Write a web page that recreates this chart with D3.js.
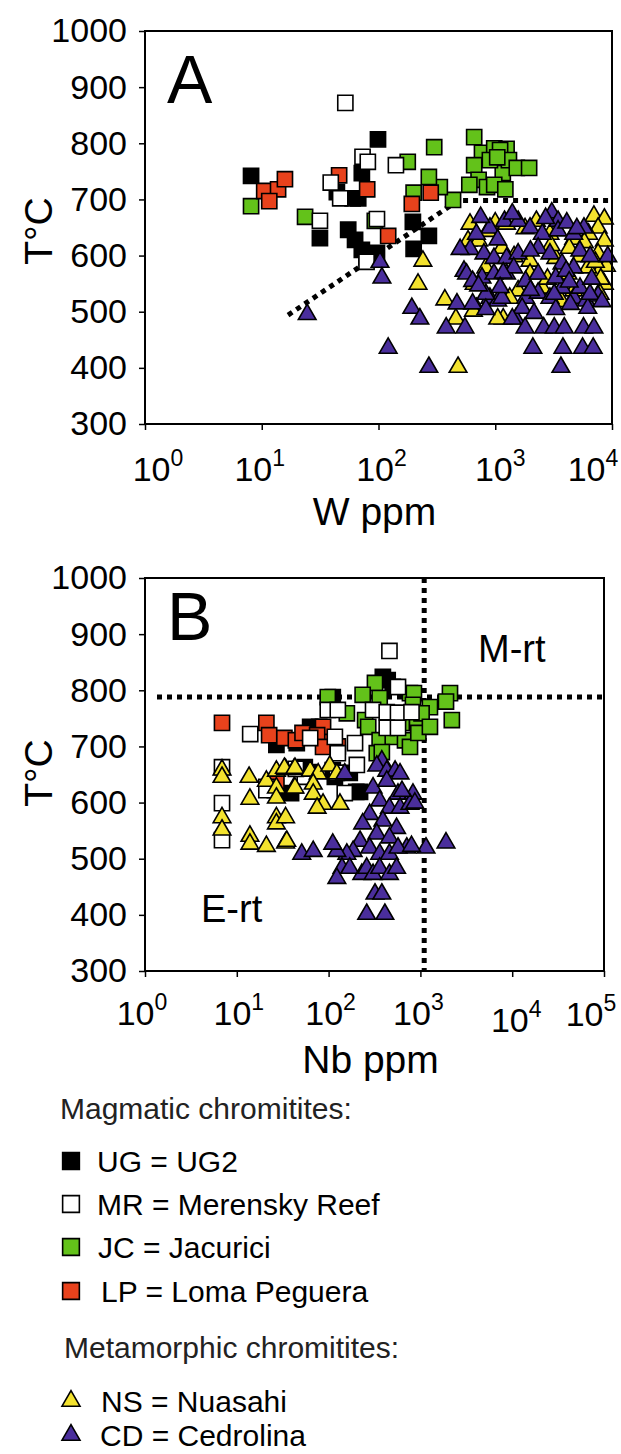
<!DOCTYPE html>
<html>
<head>
<meta charset="utf-8">
<script src="https://cdn.jsdelivr.net/npm/d3@7"></script>
<style>
  body { margin: 0; background: #fff; }
  svg text { font-family: "Liberation Sans", Arial, sans-serif; fill: #000; }
</style>
</head>
<body>
<svg id="fig" width="621" height="1454"></svg>
<script>
// ---- data: [ppm, T°C] ----
const tempTicks = [300, 400, 500, 600, 700, 800, 900, 1000];
const wTicks = [1, 10, 100, 1000, 10000];
const nbTicks = [1, 10, 100, 1000, 10000, 100000];

// panel A : W ppm
const wUG = [[8.1,742],[99,807],[72,747],[44,713],[60,702],[67,702],[31.5,631],[55,646],[63,628],
  [72,610],[79,597],[97,605],[197,660],[270,635],[200,612]];
const wMR = [[52,872],[73,776],[81,767],[141,761],[39,730],[47,702],[31.5,662],[97,665],[79,589]];
const wJC = [[8.1,688],[23.5,669],[178,767],[300,793],[93,662],[200,712],[435,699],[335,722],[270,740],
  [660,811],[770,783],[980,791],[1250,790],[1100,788],[660,761],[720,735],[600,726],[850,722],
  [1160,747],[1310,770],[1530,756],[1950,756],[980,726],[1220,718],[900,770],[1040,775]];
const wLP = [[10.5,715],[13.8,718],[15.8,736],[11.6,697],[46,743],[80,718],[280,712],[193,692],[121,635]];
const wNS = [[240,592],[218,551],[370,523],[460,489],[480,403],[690,508],
  [7000,672],[8600,667],[7600,651],[8600,628],[7600,605],[8950,583],[7600,569],[8600,551],[7900,533],
  [6300,640],[4700,631],[4300,615],[608,658],[1000,660],[1250,658],[2250,663],[585,628],[720,628],
  [1140,615],[1985,592],[3300,597],[4200,569],[660,551],[1570,539],[2530,544],[4700,539],[1985,569],
  [1330,526],[1170,489],[650,503],[1050,489],[2940,640],[5300,600],[3700,520],[830,580],[1450,600],
  [2800,560],[6200,580],[860,645],[1800,650],[3000,620],[5800,625],[7200,590],[8000,560]];
const wCD = [[24.5,497],[103,590],[107,562],[121,437],[193,508],[226,489],[270,403],[380,473],[470,516],
  [550,473],[640,516],[3650,403],[2100,437],[3800,437],[5600,437],[6900,437],
  [1500,489],[1800,473],[2600,473],[3200,473],[3900,473],[5700,473],[7000,473],
  [900,526],[1050,521],[1820,526],[2330,535],[2940,526],[3730,544],[4700,526],[6000,521],[7600,530],
  [1700,508],[2150,499],[3300,506],[4400,515],[6200,508],
  [3050,678],[3450,663],[5750,651],[610,613],[500,613],[540,574],
  [900,651],[1200,663],[1570,663],[1985,651],[2530,640],[3450,646],[4700,640],
  [800,605],[975,597],[1250,597],[1570,605],[2330,615],[2940,605],[3730,587],[4700,580],
  [568,569],[770,562],[975,569],[1250,569],[1440,580],[1820,556],[2330,569],[3300,562],[4050,574],
  [5320,544],[6480,533],[830,533],[1140,526],[3200,533],
  [640,556],[690,640],[2000,610],[5300,610],[6500,600],[1050,630],
  [720,548],[830,506],[1400,489],[1170,571],
  [750,670],[1400,676],[2700,668],[4100,660],[5000,650],[1100,545],[2000,540],[4300,555],
  [6700,560],[8200,520],[9200,600]];
// boundary in panel A
const wLine = [[16.8,494],[480,698],[10000,698]];

// panel B : Nb ppm
const nbUG = [[27,703],[63,735],[79,735],[55,663],[111,658],[117,646],[61,654],[26,622],[39,617],
  [220,619],[200,619],[390,824],[440,818],[500,806],[111,788],[170,653],[45,706]];
const nbJC = [[320,813],[770,795],[850,795],[830,774],[250,747],[270,735],[360,711],[500,717],[680,711],
  [770,699],[630,742],[920,742],[360,786],[235,792],[98,788],[158,759],[2100,795],[2200,747],
  [1270,770],[1030,759],[950,724],[1270,735],[1900,780],[335,688],[380,690]];
const nbLP = [[6.9,742],[21,742],[22.5,720],[33,715],[44,711],[52,724],[96,711],[87,735],[75,720],
  [87,699],[126,700],[27,638]];
const nbMR = [[460,870],[14,722],[6.9,663],[6.9,599],[6.9,533],[21,628],[21,622],[98,765],[126,765],
  [63,715],[117,717],[126,688],[194,706],[203,667],[150,617],[55,646],[123,653],[305,765],[430,761],
  [570,760],[800,761],[430,733],[570,733],[570,806],[44,660]];
const nbNS = [[6.9,660],[6.9,647],[13.6,647],[13.9,608],[6.9,575],[6.9,553],[13.9,542],[13.9,528],
  [21,524],[34,530],[21,640],[27,658],[27,628],[27,610],[34,661],[42,661],[42,628],[27,575],[27,564],
  [34,575],[33,663],[43,663],[63,658],[77,653],[103,667],[43,628],[68,635],[68,617],[87,599],[75,592],
  [133,599],[35,533],[123,653]];
const nbCD = [[150,653],[380,676],[335,667],[430,658],[530,658],[600,653],[305,628],[430,640],[570,617],
  [830,617],[360,605],[460,592],[600,592],[770,599],[280,581],[390,569],[550,556],[235,564],[335,546],
  [460,539],[710,521],[220,533],[280,521],[360,510],[460,510],[570,521],[185,515],[158,510],[123,515],
  [111,528],[140,485],[123,467],[170,485],[230,474],[260,485],[305,474],[360,485],[460,474],[550,485],
  [320,439],[380,439],[260,403],[410,403],[51,510],[68,515],[1150,521],[1900,530],[800,524],[870,601],
  [630,622]];
const nbLimit = 1100;   // vertical dotted line
const tLimit = 788;     // horizontal dotted line

const groups = [
  {key: 'UG', label: 'UG = UG2',            shape: 'square',   fill: '#000000'},
  {key: 'MR', label: 'MR = Merensky Reef',  shape: 'square',   fill: '#ffffff'},
  {key: 'JC', label: 'JC = Jacurici',       shape: 'square',   fill: '#63c21a'},
  {key: 'LP', label: 'LP = Loma Peguera',   shape: 'square',   fill: '#e8421c'},
  {key: 'NS', label: 'NS = Nuasahi',        shape: 'triangle', fill: '#f3e22e'},
  {key: 'CD', label: 'CD = Cedrolina',      shape: 'triangle', fill: '#4a2e9c'}
];
const drawOrder = ['UG', 'JC', 'LP', 'MR', 'NS', 'CD'];

const symSquare = d3.symbol().type(d3.symbolSquare).size(230);
const symTri = d3.symbol().type(d3.symbolTriangle).size(135);
const groupOf = k => groups.find(g => g.key == k);

class ScatterPanel {

    constructor( config, series ) {
        this.config = {
            parent: config.parent,
            left: config.left, top: config.top,
            width: config.width, height: config.height,
            xTicks: config.xTicks,
            labelShift: config.labelShift,
            labelY: config.labelY,
            xTitle: config.xTitle, xTitleY: config.xTitleY,
            letter: config.letter,
            yTitleY: config.yTitleY
        }
        this.series = series;
        this.init();
    }

    init() {
        let self = this;
        let c = self.config;

        self.g = d3.select(c.parent).append('g')
            .attr('transform', `translate(${c.left}, ${c.top})`);

        self.xscale = d3.scaleLog()
            .domain(d3.extent(c.xTicks))
            .range([0, c.width]);

        self.yscale = d3.scaleLinear()
            .domain(d3.extent(tempTicks))
            .range([c.height, 0]);
    }

    render( extra ) {
        let self = this;
        let c = self.config;

        // y axis
        let ya = self.g.append('g')
            .call(d3.axisLeft(self.yscale).tickValues(tempTicks).tickSize(6).tickSizeOuter(0)
                .tickPadding(12).tickFormat(d3.format('d')));
        ya.select('.domain').remove();
        ya.selectAll('line').attr('stroke', '#000').attr('stroke-width', 1.5);
        ya.selectAll('text').attr('font-size', 34).attr('fill', '#000');

        // x axis (ticks only, labels below)
        let xa = self.g.append('g')
            .attr('transform', `translate(0, ${c.height})`)
            .call(d3.axisBottom(self.xscale).tickValues(c.xTicks).tickSize(6).tickSizeOuter(0).tickFormat(''));
        xa.select('.domain').remove();
        xa.selectAll('line').attr('stroke', '#000').attr('stroke-width', 1.5);

        c.xTicks.forEach((v, i) => {
            let sh = c.labelShift[i];
            let t = self.g.append('text')
                .attr('x', self.xscale(v) + sh[0])
                .attr('y', c.labelY + sh[1])
                .attr('text-anchor', 'middle')
                .attr('font-size', 34);
            t.append('tspan').text('10');
            t.append('tspan').attr('dy', -15).attr('font-size', 23).text(Math.round(Math.log10(v)));
        });

        self.g.append('text')
            .attr('x', c.width / 2 - 4)
            .attr('y', c.xTitleY)
            .attr('text-anchor', 'middle')
            .attr('font-size', 39)
            .text(c.xTitle);

        self.g.append('text')
            .attr('transform', `translate(${52 - c.left}, ${c.yTitleY}) rotate(-90)`)
            .attr('text-anchor', 'middle')
            .attr('font-size', 39)
            .text('T°C');

        self.g.append('text')
            .attr('x', 22).attr('y', c.letter.y)
            .attr('font-size', 68)
            .text(c.letter.text);

        extra(self);

        // markers
        drawOrder.forEach(k => {
            let grp = groupOf(k);
            let sym = grp.shape == 'square' ? symSquare : symTri;
            self.g.append('g').selectAll('path')
                .data(self.series[k])
                .join('path')
                .attr('d', sym)
                .attr('transform', d => `translate(${self.xscale(d[0])}, ${self.yscale(d[1]) + (grp.shape == 'square' ? 0 : 1)})`)
                .attr('fill', grp.fill)
                .attr('stroke', '#000')
                .attr('stroke-width', 1.6);
        });

        // frame
        self.g.append('rect')
            .attr('width', c.width).attr('height', c.height)
            .attr('fill', 'none').attr('stroke', '#000').attr('stroke-width', 2);
    }
}

const dotted = sel => sel.attr('fill', 'none').attr('stroke', '#000')
    .attr('stroke-width', 5).attr('stroke-dasharray', '5,5');

let panelA = new ScatterPanel({
    parent: '#fig', left: 145, top: 31, width: 467, height: 393,
    xTicks: wTicks, labelShift: [[13,0],[-2,0],[3,0],[5,0],[-19,0]], labelY: 450,
    xTitle: 'W ppm', xTitleY: 494, letter: {text: 'A', y: 72}, yTitleY: 200
}, {UG: wUG, MR: wMR, JC: wJC, LP: wLP, NS: wNS, CD: wCD});

panelA.render(self => {
    self.g.append('path')
        .attr('d', d3.line().x(d => self.xscale(d[0])).y(d => self.yscale(d[1]))(wLine))
        .call(dotted);
});

let panelB = new ScatterPanel({
    parent: '#fig', left: 145, top: 578, width: 459, height: 393,
    xTicks: nbTicks, labelShift: [[-3,0],[2,0],[2,0],[-2,0],[4,7],[-13,1]], labelY: 447,
    xTitle: 'Nb ppm', xTitleY: 495, letter: {text: 'B', y: 62}, yTitleY: 195
}, {UG: nbUG, MR: nbMR, JC: nbJC, LP: nbLP, NS: nbNS, CD: nbCD});

panelB.render(self => {
    self.g.append('line')
        .attr('x1', self.xscale(1) + 12).attr('x2', self.xscale(100000))
        .attr('y1', self.yscale(tLimit)).attr('y2', self.yscale(tLimit))
        .call(dotted);
    self.g.append('line')
        .attr('x1', self.xscale(nbLimit)).attr('x2', self.xscale(nbLimit))
        .attr('y1', 0).attr('y2', self.yscale(300))
        .call(dotted);
    self.g.append('text').attr('x', 333).attr('y', 84).attr('font-size', 38).text('M-rt');
    self.g.append('text').attr('x', 56).attr('y', 344).attr('font-size', 38).text('E-rt');
});

// ---- legend ----
const legend = d3.select('#fig').append('g');
const legendRows = [
    {head: 'Magmatic chromitites:', x: 60, y: 1119},
    {key: 'UG', y: 1161, tx: 97}, {key: 'MR', y: 1204, tx: 97},
    {key: 'JC', y: 1247, tx: 98}, {key: 'LP', y: 1291, tx: 101},
    {head: 'Metamorphic chromitites:', x: 64, y: 1358},
    {key: 'NS', y: 1401, tx: 101}, {key: 'CD', y: 1435, tx: 100}
];
legendRows.forEach(r => {
    if (r.head) {
        legend.append('text').attr('x', r.x).attr('y', r.y)
            .attr('font-size', 30).style('fill', '#222').text(r.head);
        return;
    }
    let grp = groupOf(r.key);
    let sym = grp.shape == 'square'
        ? d3.symbol().type(d3.symbolSquare).size(280)
        : d3.symbol().type(d3.symbolTriangle).size(140);
    legend.append('path')
        .attr('d', sym)
        .attr('transform', `translate(71, ${r.y})`)
        .attr('fill', grp.fill).attr('stroke', '#000').attr('stroke-width', 1.6);
    legend.append('text').attr('x', r.tx).attr('y', r.y + 11)
        .attr('font-size', 30).text(grp.label);
});
</script>
</body>
</html>
